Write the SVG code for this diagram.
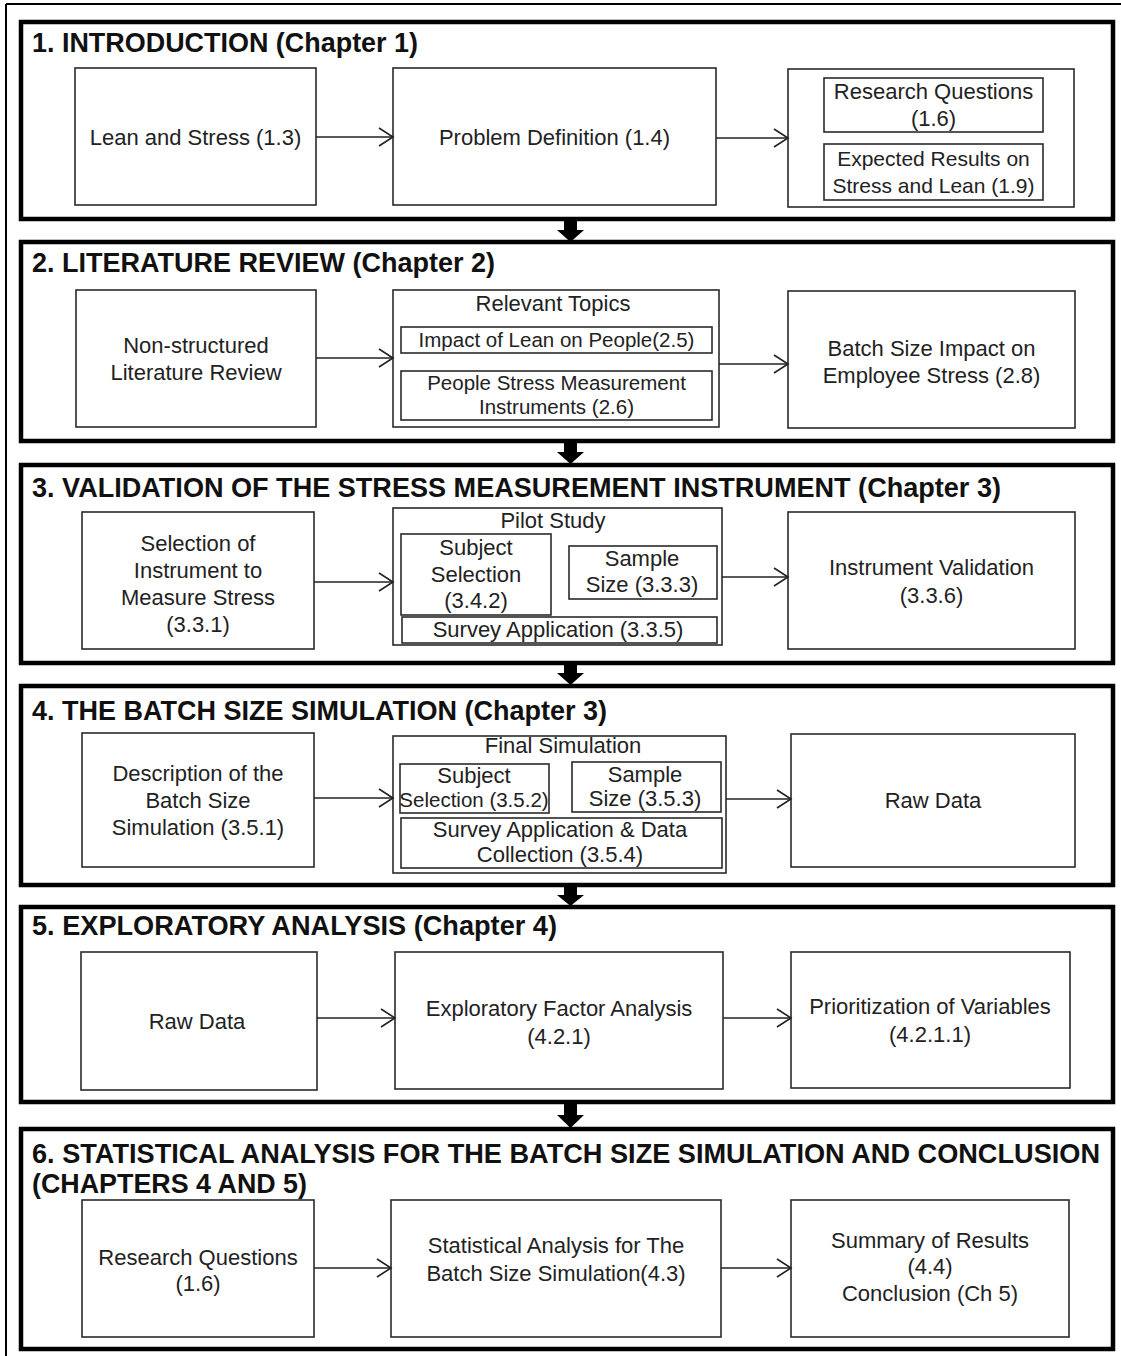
<svg xmlns="http://www.w3.org/2000/svg" width="1121" height="1356" viewBox="0 0 1121 1356">
<defs>
<style>
.frame{stroke:#000;stroke-width:2;fill:none}
.sec{fill:none;stroke:#000;stroke-width:4.5}
.box{fill:#fff;stroke:#2a2a2a;stroke-width:1.6}
.t{font-family:"Liberation Sans",Arial,sans-serif;font-size:22px;fill:#222;text-anchor:middle}
.s{font-size:20.5px}
.m{font-size:21px}
.h{font-family:"Liberation Sans",Arial,sans-serif;font-size:27px;font-weight:bold;fill:#111}
.conn{stroke:#222;stroke-width:1.6;fill:none}
.big{fill:#000}
</style>
<marker id="oa" markerUnits="userSpaceOnUse" markerWidth="20" markerHeight="22" viewBox="0 0 20 22" refX="16" refY="11" orient="auto">
<path d="M2,2 L16,11 L2,20" fill="none" stroke="#222" stroke-width="1.6"/>
</marker>
</defs>
<rect width="1121" height="1356" fill="#fff"/>
<g id="frame">
<line class="frame" x1="6" y1="4" x2="1121" y2="4"/>
<line class="frame" x1="6" y1="4" x2="6" y2="1356"/>
</g>

<g id="section1">
<rect class="sec" x="21" y="22" width="1092" height="197"/>
<text class="h" x="32" y="52" textLength="386" lengthAdjust="spacingAndGlyphs">1. INTRODUCTION (Chapter 1)</text>
<g id="n1a"><rect class="box" x="75" y="68" width="241" height="137"/><text class="t" x="195.5" y="145">Lean and Stress (1.3)</text></g>
<g id="n1b"><rect class="box" x="393" y="68" width="323" height="137"/><text class="t" x="554.5" y="145">Problem Definition (1.4)</text></g>
<g id="n1c"><rect class="box" x="788" y="69" width="286" height="138"/>
<g id="n1c1"><rect class="box" x="824" y="78" width="219" height="54"/><text class="t" x="933.5" y="99">Research Questions</text><text class="t" x="933.5" y="126">(1.6)</text></g>
<g id="n1c2"><rect class="box" x="824" y="144" width="219" height="56"/><text class="t m" x="933.5" y="166">Expected Results on</text><text class="t m" x="933.5" y="193">Stress and Lean (1.9)</text></g>
</g>
</g>

<g id="section2">
<rect class="sec" x="21" y="242" width="1092" height="199"/>
<text class="h" x="32" y="272" textLength="463" lengthAdjust="spacingAndGlyphs">2. LITERATURE REVIEW (Chapter 2)</text>
<g id="n2a"><rect class="box" x="76" y="290" width="240" height="137"/><text class="t" x="196" y="353">Non-structured</text><text class="t" x="196" y="380">Literature Review</text></g>
<g id="n2b"><rect class="box" x="393" y="290" width="326" height="137"/><text class="t" x="553" y="311">Relevant Topics</text>
<g id="n2b1"><rect class="box" x="401" y="327" width="311" height="26"/><text class="t s" x="556.5" y="347">Impact of Lean on People(2.5)</text></g>
<g id="n2b2"><rect class="box" x="401" y="371" width="311" height="49"/><text class="t s" x="556.5" y="390">People Stress Measurement</text><text class="t s" x="556.5" y="414">Instruments (2.6)</text></g>
</g>
<g id="n2c"><rect class="box" x="788" y="291" width="287" height="137"/><text class="t" x="931.5" y="356">Batch Size Impact on</text><text class="t" x="931.5" y="383">Employee Stress (2.8)</text></g>
</g>

<g id="section3">
<rect class="sec" x="21" y="465" width="1092" height="198"/>
<text class="h" x="32" y="497" textLength="969" lengthAdjust="spacingAndGlyphs">3. VALIDATION OF THE STRESS MEASUREMENT INSTRUMENT (Chapter 3)</text>
<g id="n3a"><rect class="box" x="82" y="512" width="232" height="137"/><text class="t" x="198" y="551">Selection of</text><text class="t" x="198" y="578">Instrument to</text><text class="t" x="198" y="605">Measure Stress</text><text class="t" x="198" y="632">(3.3.1)</text></g>
<g id="n3b"><rect class="box" x="393" y="508" width="329" height="137"/><text class="t" x="553" y="528">Pilot Study</text>
<g id="n3b1"><rect class="box" x="401" y="534" width="150" height="81"/><text class="t" x="476" y="555">Subject</text><text class="t" x="476" y="582">Selection</text><text class="t" x="476" y="608">(3.4.2)</text></g>
<g id="n3b2"><rect class="box" x="569" y="546" width="148" height="53"/><text class="t" x="642" y="566">Sample</text><text class="t" x="642" y="592">Size (3.3.3)</text></g>
<g id="n3b3"><rect class="box" x="402" y="617" width="315" height="26"/><text class="t" x="558" y="637">Survey Application (3.3.5)</text></g>
</g>
<g id="n3c"><rect class="box" x="788" y="512" width="287" height="137"/><text class="t" x="931.5" y="575">Instrument Validation</text><text class="t" x="931.5" y="603">(3.3.6)</text></g>
</g>

<g id="section4">
<rect class="sec" x="21" y="686" width="1092" height="199"/>
<text class="h" x="32" y="720" textLength="575" lengthAdjust="spacingAndGlyphs">4. THE BATCH SIZE SIMULATION (Chapter 3)</text>
<g id="n4a"><rect class="box" x="82" y="733" width="232" height="134"/><text class="t" x="198" y="781">Description of the</text><text class="t" x="198" y="808">Batch Size</text><text class="t" x="198" y="835">Simulation (3.5.1)</text></g>
<g id="n4b"><rect class="box" x="393" y="736" width="333" height="137"/><text class="t" x="563" y="753">Final Simulation</text>
<g id="n4b1"><rect class="box" x="400" y="764" width="149" height="49"/><text class="t" x="474" y="783">Subject</text><text class="t s" x="474" y="807">Selection (3.5.2)</text></g>
<g id="n4b2"><rect class="box" x="572" y="762" width="149" height="50"/><text class="t" x="645" y="782">Sample</text><text class="t" x="645" y="806">Size (3.5.3)</text></g>
<g id="n4b3"><rect class="box" x="401" y="818" width="321" height="50"/><text class="t" x="560" y="837">Survey Application &amp; Data</text><text class="t" x="560" y="862">Collection (3.5.4)</text></g>
</g>
<g id="n4c"><rect class="box" x="791" y="734" width="284" height="133"/><text class="t" x="933" y="808">Raw Data</text></g>
</g>

<g id="section5">
<rect class="sec" x="21" y="907" width="1092" height="195"/>
<text class="h" x="32" y="935" textLength="525" lengthAdjust="spacingAndGlyphs">5. EXPLORATORY ANALYSIS (Chapter 4)</text>
<g id="n5a"><rect class="box" x="81" y="952" width="236" height="138"/><text class="t" x="197" y="1029">Raw Data</text></g>
<g id="n5b"><rect class="box" x="395" y="952" width="328" height="137"/><text class="t" x="559" y="1016">Exploratory Factor Analysis</text><text class="t" x="559" y="1044">(4.2.1)</text></g>
<g id="n5c"><rect class="box" x="791" y="952" width="279" height="136"/><text class="t" x="930" y="1014">Prioritization of Variables</text><text class="t" x="930" y="1042">(4.2.1.1)</text></g>
</g>

<g id="section6">
<rect class="sec" x="21" y="1129" width="1092" height="220"/>
<text class="h" x="32" y="1163" textLength="1068" lengthAdjust="spacingAndGlyphs">6. STATISTICAL ANALYSIS FOR THE BATCH SIZE SIMULATION AND CONCLUSION</text>
<text class="h" x="32" y="1193" textLength="275" lengthAdjust="spacingAndGlyphs">(CHAPTERS 4 AND 5)</text>
<g id="n6a"><rect class="box" x="82" y="1200" width="232" height="137"/><text class="t" x="198" y="1265">Research Questions</text><text class="t" x="198" y="1291">(1.6)</text></g>
<g id="n6b"><rect class="box" x="391" y="1200" width="330" height="137"/><text class="t" x="556" y="1253">Statistical Analysis for The</text><text class="t" x="556" y="1281">Batch Size Simulation(4.3)</text></g>
<g id="n6c"><rect class="box" x="791" y="1200" width="278" height="137"/><text class="t" x="930" y="1248">Summary of Results</text><text class="t" x="930" y="1274">(4.4)</text><text class="t" x="930" y="1301">Conclusion (Ch 5)</text></g>
</g>

<g id="connectors">
<line class="conn" x1="316" y1="137" x2="393" y2="137" marker-end="url(#oa)"/>
<line class="conn" x1="716" y1="138" x2="788" y2="138" marker-end="url(#oa)"/>
<line class="conn" x1="316" y1="358" x2="393" y2="358" marker-end="url(#oa)"/>
<line class="conn" x1="719" y1="364" x2="788" y2="364" marker-end="url(#oa)"/>
<line class="conn" x1="314" y1="582" x2="393" y2="582" marker-end="url(#oa)"/>
<line class="conn" x1="722" y1="577" x2="788" y2="577" marker-end="url(#oa)"/>
<line class="conn" x1="314" y1="798" x2="393" y2="798" marker-end="url(#oa)"/>
<line class="conn" x1="726" y1="799" x2="791" y2="799" marker-end="url(#oa)"/>
<line class="conn" x1="317" y1="1018" x2="395" y2="1018" marker-end="url(#oa)"/>
<line class="conn" x1="723" y1="1018" x2="791" y2="1018" marker-end="url(#oa)"/>
<line class="conn" x1="314" y1="1268" x2="391" y2="1268" marker-end="url(#oa)"/>
<line class="conn" x1="721" y1="1268" x2="791" y2="1268" marker-end="url(#oa)"/>
<polygon class="big" points="564,221 577,221 577,230 584,230 570.5,242 557,230 564,230"/>
<polygon class="big" points="564,443 577,443 577,452 584,452 570.5,464 557,452 564,452"/>
<polygon class="big" points="564,665 577,665 577,673 584,673 570.5,685 557,673 564,673"/>
<polygon class="big" points="564,887 577,887 577,895 584,895 570.5,906 557,895 564,895"/>
<polygon class="big" points="564,1104 577,1104 577,1115 584,1115 570.5,1128 557,1115 564,1115"/>
</g>
</svg>
